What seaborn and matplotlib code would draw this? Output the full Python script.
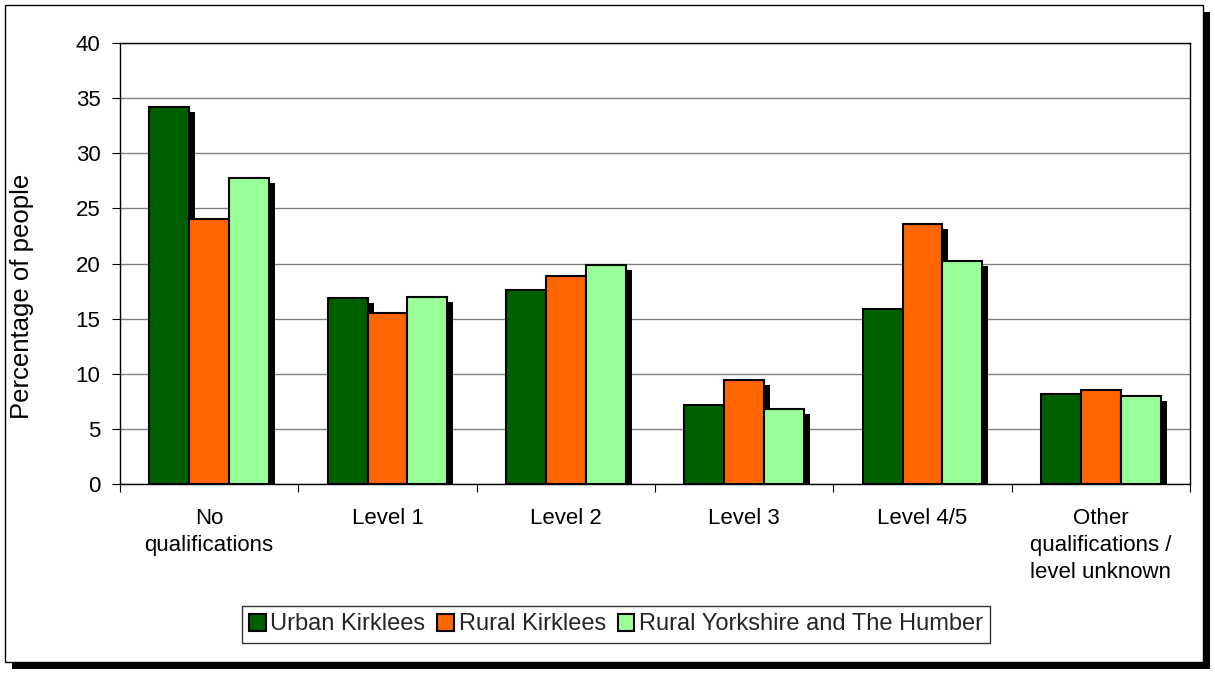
import numpy as np
import pandas as pd
import seaborn as sns
import matplotlib.pyplot as plt
import matplotlib.patheffects as pe
from matplotlib.patches import Rectangle

categories = ['No\nqualifications', 'Level 1', 'Level 2', 'Level 3', 'Level 4/5',
              'Other\nqualifications /\nlevel unknown']
series = ['Urban Kirklees', 'Rural Kirklees', 'Rural Yorkshire and The Humber']
urban_kirklees = [34.2, 16.9, 17.6, 7.2, 15.9, 8.2]
rural_kirklees = [24.0, 15.5, 18.9, 9.4, 23.6, 8.5]
rural_yh = [27.8, 17.0, 19.9, 6.8, 20.2, 8.0]
colors = ['#006000', '#FF6600', '#99FF99']

df = pd.DataFrame({
    'category': categories * 3,
    'series': np.repeat(series, len(categories)),
    'value': urban_kirklees + rural_kirklees + rural_yh,
})

sns.set_style('white')
plt.rcParams['font.family'] = ['Liberation Sans', 'DejaVu Sans']

fig = plt.figure(figsize=(12.15, 6.74), dpi=100)
# outer chart frame with drop shadow
frame = Rectangle((5 / 1215, 1 - 662 / 674), 1198 / 1215, 657 / 674, transform=fig.transFigure,
                  facecolor='white', edgecolor='black', linewidth=1.0, zorder=-5,
                  path_effects=[pe.SimplePatchShadow(offset=(5, -5), shadow_rgbFace='black', alpha=1),
                                pe.Normal()])
fig.patches.append(frame)

ax = fig.add_axes([120 / 1215, 1 - 484 / 674, 1070 / 1215, 441 / 674])
ax.set_zorder(2)
ax.set_facecolor('white')

sns.barplot(data=df, x='category', y='value', hue='series', palette=colors, saturation=1,
            width=0.67, gap=0, edgecolor='black', linewidth=1.5, ax=ax, legend=True)

shadow = [pe.SimplePatchShadow(offset=(4.3, -3.6), shadow_rgbFace='black', alpha=1), pe.Normal()]
for p in ax.patches:
    p.set_path_effects(shadow)

ax.set_ylim(0, 40)
ax.set_yticks(range(0, 41, 5))
ax.set_xlim(-0.5, len(categories) - 0.5)
ax.yaxis.grid(True, color='#808080', linewidth=1.0)
ax.set_axisbelow(True)
for s in ax.spines.values():
    s.set_color('black')
    s.set_linewidth(1.0)

ax.set_xticks(np.arange(len(categories) + 1) - 0.5, minor=False)
ax.set_xticklabels([])
ax.set_xticks(np.arange(len(categories)), minor=True)
ax.set_xticklabels(categories, minor=True, fontsize=16, va='top', ha='center', color='black',
                   linespacing=1.4)
ax.tick_params(axis='x', which='major', length=6, direction='out', color='black', bottom=True)
ax.tick_params(axis='x', which='minor', length=0, pad=17)
ax.tick_params(axis='y', length=6, direction='out', color='black', left=True, labelsize=16,
               labelcolor='black', pad=8)

ax.set_xlabel('')
ax.set_ylabel('Percentage of people', fontsize=18.5, color='black')
ax.yaxis.set_label_coords(-0.08, 0.426)

handles, labels = ax.get_legend_handles_labels()
ax.get_legend().remove()
leg = fig.legend(handles, labels, loc='center', bbox_to_anchor=(616 / 1215, 1 - 624.5 / 674),
                 ncol=3, fontsize=17, frameon=True, fancybox=False, edgecolor='black',
                 handlelength=0.7, handleheight=0.7, handletextpad=0.2, columnspacing=0.5,
                 borderpad=0.3, borderaxespad=0)
leg.set_zorder(3)
leg.get_frame().set_linewidth(1.0)
for h in leg.legend_handles:
    h.set_path_effects([])
    h.set_linewidth(1.5)

fig.savefig('out.png', dpi=100, facecolor='white')
